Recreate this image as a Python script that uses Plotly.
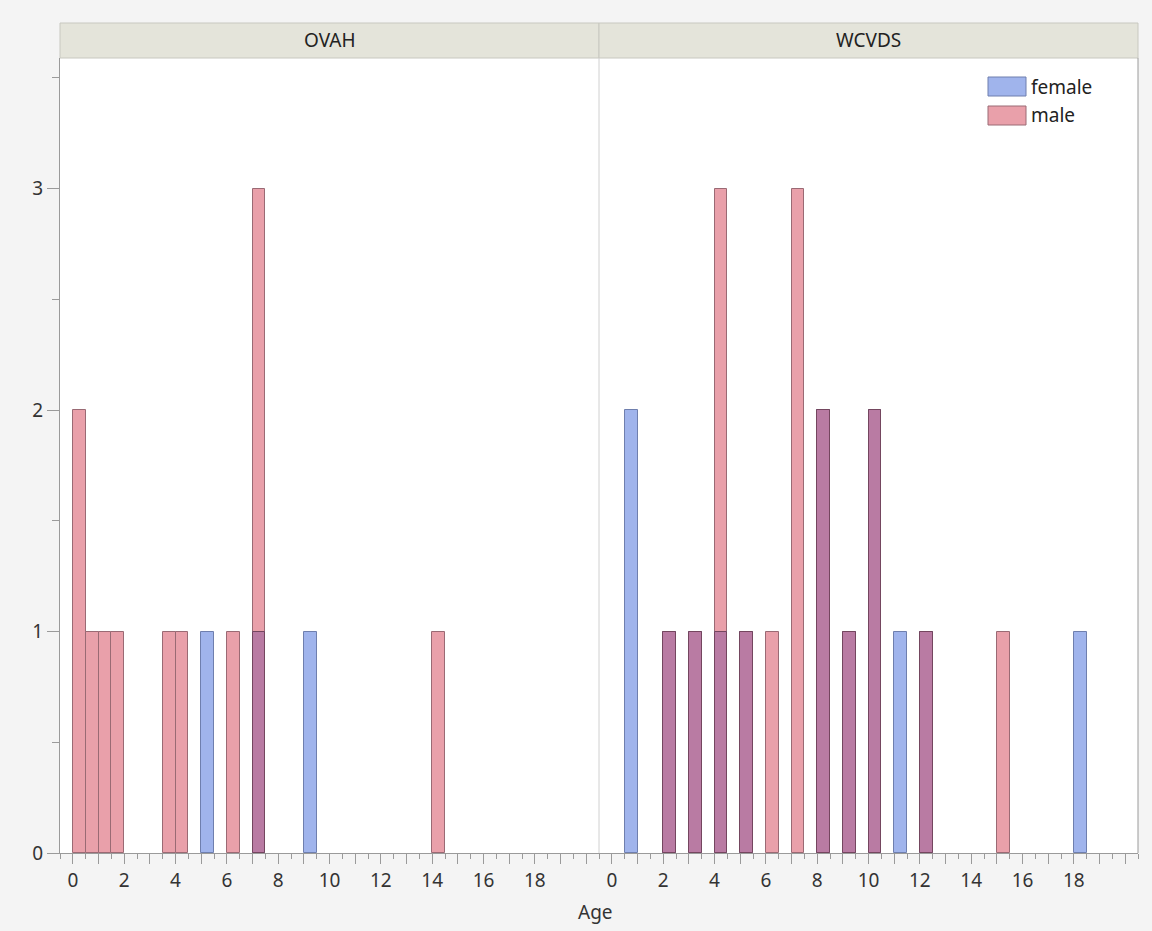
import plotly.graph_objects as go

# ---- data (bin start, count), bins are 0.5 years wide ----
BIN_W = 0.5
panels = ["OVAH", "WCVDS"]

ovah_male_bins = [0, 0.5, 1, 1.5, 3.5, 4, 6, 7, 14]
ovah_male_counts = [2, 1, 1, 1, 1, 1, 1, 3, 1]
ovah_female_bins = [5, 7, 9]
ovah_female_counts = [1, 1, 1]

wcvds_female_bins = [0.5, 2, 3, 4, 5, 8, 9, 10, 11, 12, 18]
wcvds_female_counts = [2, 1, 1, 1, 1, 2, 1, 2, 1, 1, 1]
wcvds_male_bins = [2, 3, 4, 5, 6, 7, 8, 9, 10, 12, 15]
wcvds_male_counts = [1, 1, 3, 1, 1, 3, 2, 1, 2, 1, 1]

x_tick_vals = list(range(0, 21))
x_tick_text = [str(v) if (v % 2 == 0 and v <= 18) else "" for v in x_tick_vals]
y_tick_vals = [0, 1, 2, 3]

# ---- styles ----
FONT = "Segoe UI, Noto Sans, Open Sans, sans-serif"
C_FEM = "#a0b4ec"
C_FEM_LINE = "#6f7fae"
C_MAL = "#e9a0aa"
C_MAL_LINE = "#9a6a74"
C_BOTH = "#b97ba3"
C_BOTH_LINE = "#74465f"
AX = "#9a9a9a"

fig = go.Figure()

data = [
    ("x", ovah_female_bins, ovah_female_counts, ovah_male_bins, ovah_male_counts),
    ("x2", wcvds_female_bins, wcvds_female_counts, wcvds_male_bins, wcvds_male_counts),
]

for xa, fb, fc, mb, mc in data:
    fig.add_trace(go.Bar(x=[b + BIN_W / 2 for b in mb], y=mc, width=BIN_W,
                         marker=dict(color=C_MAL, line=dict(color=C_MAL_LINE, width=1)),
                         xaxis=xa, yaxis="y", showlegend=False, name="male"))
    fig.add_trace(go.Bar(x=[b + BIN_W / 2 for b in fb], y=fc, width=BIN_W,
                         marker=dict(color=C_FEM, line=dict(color=C_FEM_LINE, width=1)),
                         xaxis=xa, yaxis="y", showlegend=False, name="female"))
    mdict = dict(zip(mb, mc))
    ob, oc = [], []
    for b, c in zip(fb, fc):
        if b in mdict:
            ob.append(b)
            oc.append(min(c, mdict[b]))
    fig.add_trace(go.Bar(x=[b + BIN_W / 2 for b in ob], y=oc, width=BIN_W,
                         marker=dict(color=C_BOTH, line=dict(color=C_BOTH_LINE, width=1)),
                         xaxis=xa, yaxis="y", showlegend=False, name="both"))

xcommon = dict(range=[-0.5, 20.5], tickmode="array", tickvals=x_tick_vals, ticktext=x_tick_text,
               ticks="outside", ticklen=10, tickcolor=AX, showline=True, linecolor=AX,
               showgrid=False, zeroline=False, anchor="y",
               tickfont=dict(family=FONT, size=19, color="#333"),
               minor=dict(tickmode="array", tickvals=[v + 0.5 for v in range(-1, 21)],
                          ticks="outside", ticklen=5, tickcolor=AX, showgrid=False))

fig.update_layout(
    width=1152, height=931,
    margin=dict(l=60, r=14, t=58, b=78),
    paper_bgcolor="#f4f4f4", plot_bgcolor="white",
    barmode="overlay", bargap=0,
    xaxis=dict(domain=[0, 0.5], **xcommon),
    xaxis2=dict(domain=[0.5, 1], **xcommon),
    yaxis=dict(range=[0, 3.59], tickmode="array", tickvals=y_tick_vals,
               ticks="outside", ticklen=12, tickcolor=AX, showline=True, linecolor=AX,
               showgrid=False, zeroline=False,
               tickfont=dict(family=FONT, size=19, color="#333"),
               minor=dict(tickmode="array", tickvals=[0.5, 1.5, 2.5, 3.5],
                          ticks="outside", ticklen=7, tickcolor=AX, showgrid=False)),
    font=dict(family=FONT, size=19, color="#333"),
)

shapes = []
annotations = []
strip_h = 35 / 795
for i, name in enumerate(panels):
    x0, x1 = i * 0.5, (i + 1) * 0.5
    shapes.append(dict(type="rect", xref="paper", yref="paper", x0=x0, x1=x1, y0=1, y1=1 + strip_h,
                       fillcolor="#e4e4da", line=dict(color="#c8c8c0", width=1), layer="below"))
    annotations.append(dict(text=name, xref="paper", yref="paper", x=(x0 + x1) / 2, y=1 + strip_h / 2,
                            showarrow=False, xanchor="center", yanchor="middle",
                            font=dict(family=FONT, size=19, color="#222")))
# panel separator and right border
shapes.append(dict(type="line", xref="paper", yref="paper", x0=0.5, x1=0.5, y0=0, y1=1,
                   line=dict(color="#d0d0d0", width=1)))
shapes.append(dict(type="line", xref="paper", yref="paper", x0=1, x1=1, y0=0, y1=1,
                   line=dict(color=AX, width=1)))

# manual legend
def px_x(px):
    return (px - 60) / 1078

def px_y(py):
    return (853 - py) / 795

legend_items = [("female", C_FEM, C_FEM_LINE, 77), ("male", C_MAL, C_MAL_LINE, 106)]
for label, col, lcol, top in legend_items:
    shapes.append(dict(type="rect", xref="paper", yref="paper", x0=px_x(988), x1=px_x(1026),
                       y0=px_y(top + 19), y1=px_y(top), fillcolor=col, line=dict(color=lcol, width=1)))
    annotations.append(dict(text=label, xref="paper", yref="paper", x=px_x(1029), y=px_y(top + 9.5),
                            showarrow=False, xanchor="left", yanchor="middle",
                            font=dict(family=FONT, size=19, color="#222")))

annotations.append(dict(text="Age", xref="paper", yref="paper", x=px_x(595), y=px_y(912),
                        showarrow=False, xanchor="center", yanchor="middle",
                        font=dict(family=FONT, size=19, color="#333")))

fig.update_layout(shapes=shapes, annotations=annotations)
fig.write_html("out.html")
